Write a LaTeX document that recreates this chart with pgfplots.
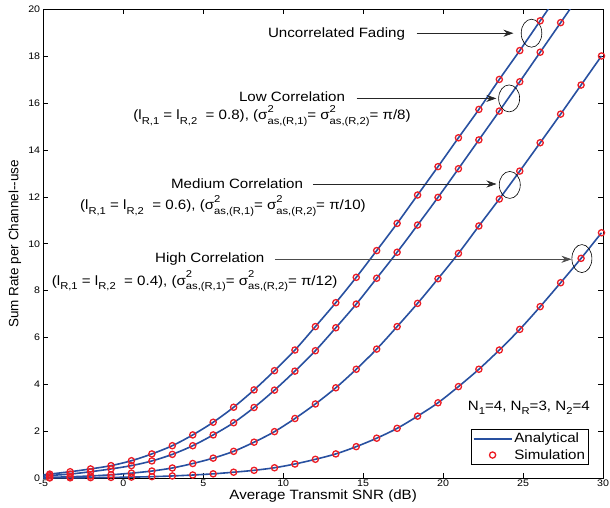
\documentclass[border=0pt]{standalone}
\usepackage{fontspec}
\setmainfont{Liberation Sans}[FakeStretch=1.12]
\newfontfamily\yfont{Liberation Sans}
\usepackage{pgfplots}
\usepackage{pgfplotstable}
\pgfplotsset{compat=1.18}
\usetikzlibrary{arrows.meta,calc}
\definecolor{lineblue}{RGB}{40,80,160}
\definecolor{simred}{RGB}{236,28,36}

% sum rate vs SNR
\pgfplotstableread{
x       unc    low    med    high
-5      0.15   0.09   0.03   0.012
-4.6    0.18   0.12   0.04   0.015
-3.322  0.28   0.18   0.065  0.02
-2.044  0.40   0.28   0.10   0.028
-0.766  0.54   0.40   0.15   0.038
0.512   0.75   0.54   0.22   0.05
1.79    1.04   0.74   0.31   0.07
3.068   1.39   1.02   0.44   0.10
4.346   1.85   1.39   0.63   0.14
5.624   2.39   1.85   0.86   0.19
6.902   3.03   2.37   1.15   0.26
8.18    3.77   3.02   1.54   0.34
9.458   4.59   3.76   1.99   0.45
10.736  5.47   4.57   2.55   0.61
12.014  6.47   5.44   3.17   0.81
13.292  7.49   6.42   3.86   1.04
14.57   8.57   7.43   4.65   1.35
15.848  9.71   8.53   5.51   1.71
17.126  10.87  9.64   6.47   2.13
18.404  12.08  10.80  7.46   2.65
19.682  13.29  11.98  8.51   3.22
20.96   14.52  13.20  9.59   3.91
22.238  15.73  14.43  10.76  4.65
23.516  17.01  15.66  11.91  5.47
24.794  18.24  16.91  13.10  6.35
26.072  19.51  18.17  14.31  7.32
27.35   20.77  19.43  15.53  8.34
28.628  22.03  20.69  16.77  9.38
29.906  23.29  21.95  18.01  10.47
}\ratedata

\newcommand\annsz{\fontsize{13.5}{16}\selectfont}
\newcommand\subsz{\fontsize{10}{10}\selectfont}
\newcommand\lo[1]{\raisebox{-0.6ex}{\subsz #1}}
\newcommand\sig[1]{σ\makebox[0pt][l]{\raisebox{1.0ex}{\subsz 2}}\raisebox{-0.6ex}{\subsz #1}}

\begin{document}
\begin{tikzpicture}
\begin{axis}[
  scale only axis, width=559.7pt, height=469pt,
  xmin=-5, xmax=30, ymin=0, ymax=20,
  xtick={-5,0,...,30}, ytick={0,2,...,20},
  tick align=inside, xtick pos=both, ytick pos=both,
  major tick length=5pt,
  axis line style={line width=0.9pt},
  every tick/.style={black, line width=0.6pt},
  /pgf/number format/assume math mode=true,
  tick label style={font=\fontsize{9.5}{10}\selectfont},
  xticklabel style={inner sep=0pt, yshift=-1.8pt},
  yticklabel style={inner sep=3pt},
  xlabel={Average Transmit SNR (dB)},
  ylabel={Sum Rate per Channel--use},
  every axis x label/.style={at={(axis description cs:0.5,0)}, yshift=-21pt, anchor=base, font=\annsz},
  every axis y label/.style={at={(axis description cs:0,0.5)}, xshift=-28.3pt, rotate=90, anchor=center, font=\annsz\yfont},
  legend style={at={(rel axis cs:0.9737,0.0284)}, anchor=south east, draw=black,
    line width=0.6pt, inner xsep=1pt, inner ysep=2pt, font=\annsz, row sep=1pt},
  legend cell align=left,
]
\coordinate (sw) at (rel axis cs:0,0);
\coordinate (ne) at (rel axis cs:1,1);

\addlegendimage{legend image code/.code={\draw[lineblue, line width=1.6pt] (0pt,0pt) -- (38pt,0pt);}}
\addlegendentry{Analytical}
\addlegendimage{legend image code/.code={\path[draw=none] (0pt,0pt) -- (38pt,0pt);
  \draw[simred, line width=1.3pt] (19pt,0pt) circle[radius=3.1pt];}}
\addlegendentry{Simulation}

\foreach \c in {unc,low,med,high}{
  \addplot[lineblue, line width=1.6pt, smooth, forget plot] table[x=x,y=\c]{\ratedata};
}
\foreach \c in {unc,low,med,high}{
  \addplot[only marks, mark=o, mark size=3.1pt, mark options={simred, line width=1.3pt},
    restrict y to domain=0:20, skip coords between index={0}{1}, forget plot]
    table[x=x,y=\c]{\ratedata};
}

% annotations
\node[anchor=base west, inner sep=0, font=\annsz] at (axis cs:9.04,18.80) {Uncorrelated Fading};
\draw[black!85, line width=0.6pt, -{Stealth[length=10pt,width=7pt]}] (axis cs:18.34,18.98) -- (axis cs:24.4,18.98);
\draw[black, line width=0.6pt] (axis cs:25.53,18.98) ellipse[x radius=10.3pt, y radius=14pt];

\node[anchor=base west, inner sep=0, font=\annsz] at (axis cs:7.23,16.06) {Low Correlation};
\node[anchor=base west, inner sep=0, font=\annsz] at (axis cs:0.625,15.28)
  {(l\lo{R,1} = l\lo{R,2}\ \ = 0.8), (\sig{as,(R,1)}= \sig{as,(R,2)}= π/8)};
\draw[black!85, line width=0.6pt, -{Stealth[length=10pt,width=7pt]}] (axis cs:14.59,16.2) -- (axis cs:23.33,16.2);
\draw[black, line width=0.6pt] (axis cs:24.13,16.2) ellipse[x radius=10.5pt, y radius=13.5pt];

\node[anchor=base west, inner sep=0, font=\annsz] at (axis cs:2.98,12.34) {Medium Correlation};
\node[anchor=base west, inner sep=0, font=\annsz] at (axis cs:-2.71,11.45)
  {(l\lo{R,1} = l\lo{R,2}\ \ = 0.6), (\sig{as,(R,1)}= \sig{as,(R,2)}= π/10)};
\draw[black!85, line width=0.6pt, -{Stealth[length=10pt,width=7pt]}] (axis cs:11.86,12.55) -- (axis cs:23.34,12.55);
\draw[black, line width=0.6pt] (axis cs:24.17,12.51) ellipse[x radius=10.5pt, y radius=13.5pt];

\node[anchor=base west, inner sep=0, font=\annsz] at (axis cs:1.98,9.19) {High Correlation};
\node[anchor=base west, inner sep=0, font=\annsz] at (axis cs:-4.475,8.24)
  {(l\lo{R,1} = l\lo{R,2}\ \ = 0.4), (\sig{as,(R,1)}= \sig{as,(R,2)}= π/12)};
\draw[black!70, line width=0.6pt, -{Stealth[length=10pt,width=7pt]}] (axis cs:9.48,9.34) -- (axis cs:28.03,9.34);
\draw[black, line width=0.6pt] (axis cs:28.68,9.37) ellipse[x radius=10pt, y radius=14pt];

\node[anchor=base west, inner sep=0, font=\annsz] at (axis cs:21.54,2.91) {N\lo{1}=4, N\lo{R}=3, N\lo{2}=4};
\end{axis}
\pgfresetboundingbox
\path ($(sw)+(-43.3pt,-29.7pt)$) rectangle ($(ne)+(7pt,9.3pt)$);
\end{tikzpicture}
\end{document}
